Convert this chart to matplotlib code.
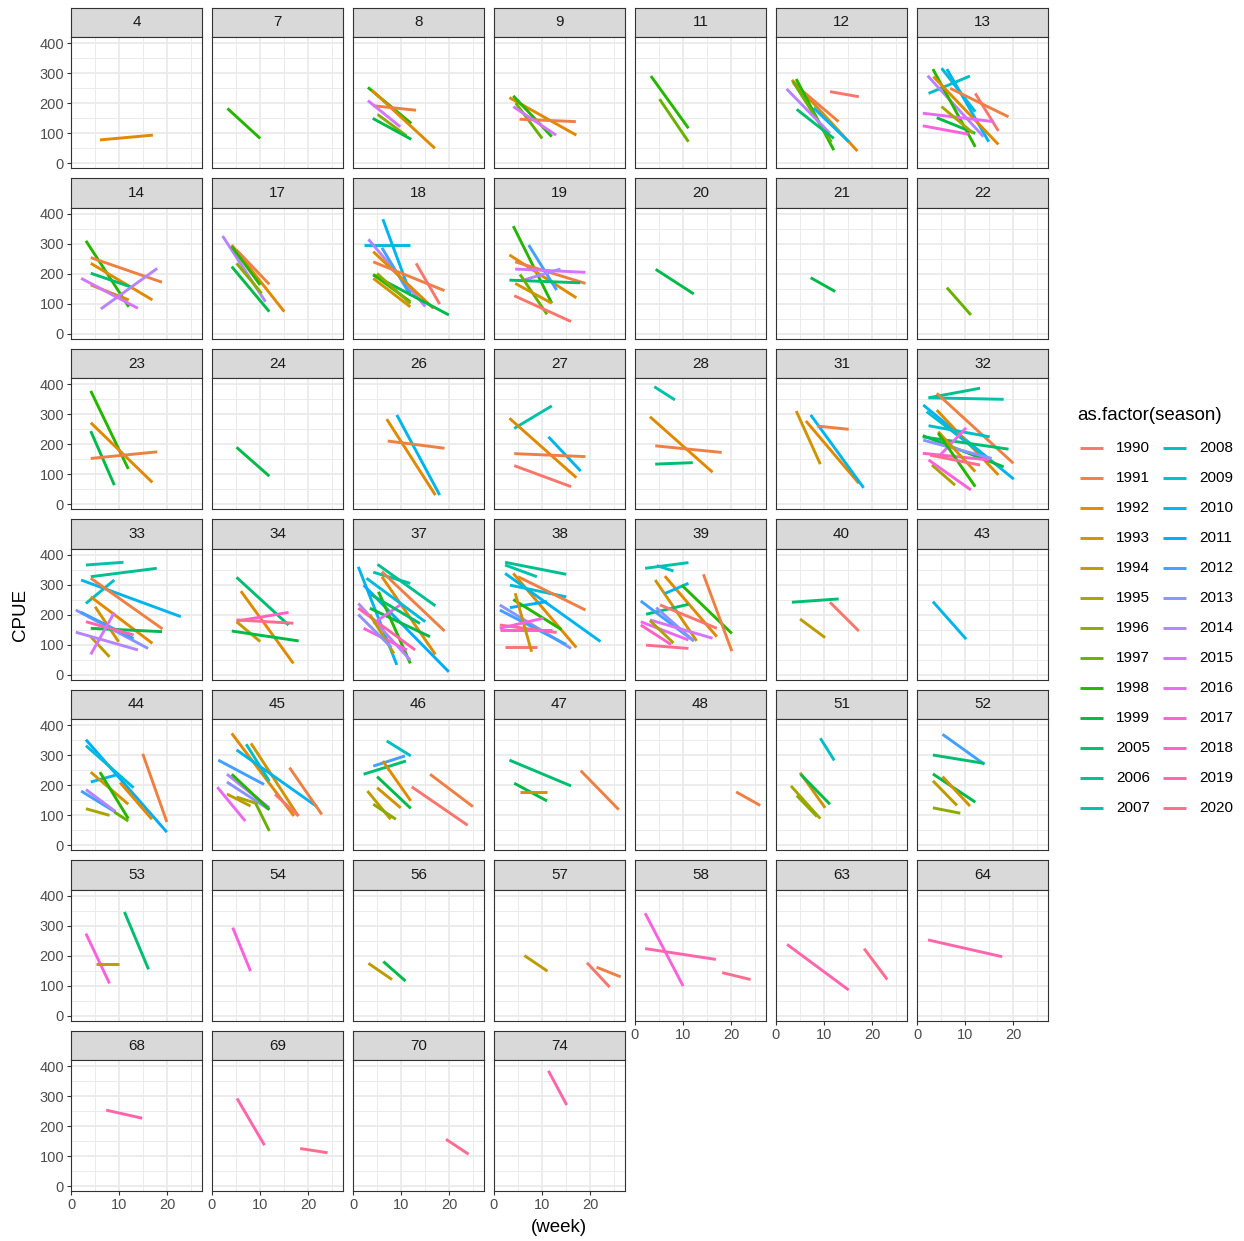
import numpy as np
import matplotlib
matplotlib.use("Agg")
import matplotlib.pyplot as plt
from matplotlib.lines import Line2D

plt.rcParams['font.family'] = ['Liberation Sans', 'DejaVu Sans']

# seasons shown in the legend (factor levels)
seasons = list(range(1990, 2000)) + list(range(2005, 2021))

# facet order (areas)
areas = [4, 7, 8, 9, 11, 12, 13,
         14, 17, 18, 19, 20, 21, 22,
         23, 24, 26, 27, 28, 31, 32,
         33, 34, 37, 38, 39, 40, 43,
         44, 45, 46, 47, 48, 51, 52,
         53, 54, 56, 57, 58, 63, 64,
         68, 69, 70, 74]

# one sublist per area: season of each segment
seg_season = [
    [1992],
    [1998],
    [1998, 1992, 1991, 2015, 1996, 1999],
    [1992, 1998, 1997, 1991, 2015],
    [1998, 1997],
    [1990, 1992, 1991, 1998, 1997, 2014, 2005, 2010],
    [2008, 2009, 2010, 2014, 1998, 1992, 1990, 1991, 2016, 2017, 1999, 1995],
    [1998, 1991, 1992, 2005, 1993, 2014, 2015],
    [2014, 1992, 1991, 1998, 1999, 1996],
    [2009, 2010, 2014, 2012, 1992, 1991, 1990, 1999, 1998, 1996, 1993],
    [1998, 1992, 1991, 2012, 2015, 2014, 2005, 1997, 1993, 1990],
    [1999],
    [1999],
    [1997],
    [1998, 1992, 1999, 1991],
    [1999],
    [1992, 2010, 1991],
    [2007, 1992, 2010, 1991, 1990],
    [2007, 1992, 1991, 2005],
    [1993, 1992, 2010, 1991],
    [2006, 2007, 1991, 2010, 1992, 2009, 2008, 2005, 1999, 2018, 2016, 2013, 1993, 1995, 1998, 2017, 2020],
    [2007, 2006, 2010, 2008, 1991, 1992, 1994, 1993, 2013, 2012, 1999, 2019, 2015, 2014],
    [2005, 1992, 2018, 2020, 1994, 1999],
    [2007, 2006, 1991, 1992, 2010, 2011, 2009, 1999, 1998, 2014, 2019, 2016, 2017, 1994, 2005, 2013],
    [2006, 2007, 1992, 2010, 2009, 1991, 2011, 1998, 2013, 2012, 2020, 2018, 1990, 1993, 2017],
    [2007, 2008, 1992, 1993, 2010, 1998, 1991, 2005, 1990, 2012, 2013, 2015, 2016, 2018, 2020, 1995],
    [2005, 1990, 1994],
    [2010],
    [2011, 2009, 2010, 1993, 1992, 1991, 1998, 2012, 2014, 1995, 1997],
    [1992, 1993, 2008, 2010, 2012, 1991, 1990, 2014, 2013, 2016, 1997, 1995, 1998, 1994],
    [2008, 2012, 2005, 1992, 1999, 1993, 1994, 1996, 1990, 1991],
    [2005, 1999, 1993, 1991],
    [1991],
    [2008, 1993, 1999, 1995, 1996],
    [2012, 2005, 1999, 1993, 1994, 1996],
    [2017, 1994, 2005],
    [2017],
    [1994, 1999],
    [1994, 1990, 1991],
    [2017, 2019, 2020],
    [2019, 2020],
    [2019],
    [2019],
    [2019, 2020],
    [2020],
    [2019],
]

week_start = [
    [6],
    [3.2],
    [3.1, 3.9, 4.2, 3.1, 5.1, 4.1],
    [3.2, 4, 4.5, 5.3, 4],
    [3.3, 5.1],
    [11.2, 3.3, 3.6, 4.2, 3.5, 2.2, 4.3, 7.8],
    [2.4, 5.1, 6.2, 2.2, 3.3, 3.4, 12.1, 6.9, 1.2, 1.2, 4.1, 5.1],
    [3.1, 4.1, 4.1, 4.1, 4.1, 6.2, 2.1],
    [2.2, 4.1, 5, 4.1, 4.1, 5.1],
    [2.2, 6.2, 3.2, 6, 4.2, 4.2, 13.1, 4.2, 4.2, 5, 4.2],
    [4, 3.2, 4.4, 7.2, 4.4, 6.1, 3.2, 5.4, 4.4, 4.2],
    [4.3],
    [7.2],
    [6.2],
    [4.1, 4.1, 4.1, 4.1],
    [5.1],
    [7, 9.1, 7.2],
    [4.2, 3.2, 11.3, 4.2, 4.2],
    [4, 3.1, 4.2, 4.2],
    [4.2, 6.2, 7.2, 8.5],
    [2.4, 2.4, 4.1, 1.3, 4.1, 2, 2.4, 1.2, 1.2, 1.2, 4.8, 1.3, 4.4, 3.1, 4.4, 2.4, 2.7],
    [3.1, 4.1, 2.1, 3.1, 4.1, 4.1, 4.1, 5, 1, 2, 4.1, 3.1, 4.1, 1],
    [5.1, 6, 5.1, 5.1, 5.1, 4.1],
    [4.2, 5.1, 6, 6, 1.1, 2.2, 2.8, 3.5, 5.3, 1.1, 1.1, 4.2, 2.2, 3.5, 3.8, 1.1],
    [2.3, 2.3, 4, 2.3, 3.3, 5, 3.3, 4, 1.2, 1.2, 1.2, 1.2, 2.3, 4.4, 1.2],
    [2.1, 4.5, 6.2, 4.2, 6.2, 9.7, 14.2, 2.3, 5.2, 1.2, 4.4, 3.1, 1.2, 1.2, 2.3, 3.1],
    [3.3, 11.2, 5],
    [3.3],
    [3.1, 3.1, 4.1, 4.1, 10.2, 14.9, 6, 2.1, 3.1, 3.1, 9],
    [4.1, 8.1, 7.1, 5.1, 1.3, 16.1, 13.1, 3.1, 3.1, 1.1, 9, 5.1, 4.1, 3.1],
    [7, 4.2, 2.2, 6.2, 5, 5, 3, 4.2, 12.2, 16],
    [3.2, 4.2, 5.3, 18],
    [21],
    [9.2, 5, 5.1, 3.1, 4.3],
    [5.3, 3.3, 3.3, 5.3, 3.3, 3.3],
    [3.1, 5.1, 11.1],
    [4.3],
    [3.2, 6.3],
    [6.3, 19.3, 21.3],
    [2.1, 2.1, 18.1],
    [2.3, 18.3],
    [2.3],
    [7.3],
    [5.2, 18.3],
    [19.3],
    [11.3],
]

cpue_start = [
    [77],
    [182],
    [252, 243, 191, 208, 162, 149],
    [218, 224, 200, 146, 188],
    [290, 213],
    [238, 277, 266, 280, 272, 247, 179, 184],
    [232, 316, 313, 291, 313, 288, 232, 249, 166, 124, 151, 188],
    [309, 253, 234, 201, 162, 82, 184],
    [325, 295, 280, 290, 223, 234],
    [295, 381, 314, 286, 273, 239, 234, 195, 197, 200, 184],
    [358, 262, 239, 295, 215, 178, 178, 197, 167, 126],
    [214],
    [186],
    [153],
    [377, 271, 243, 152],
    [189],
    [283, 297, 210],
    [252, 286, 224, 168, 128],
    [391, 291, 194, 133],
    [310, 277, 297, 260],
    [354, 354, 369, 330, 313, 308, 261, 224, 228, 169, 163, 213, 241, 130, 236, 147, 163],
    [365, 326, 315, 237, 321, 259, 126, 226, 215, 208, 154, 176, 67, 141],
    [324, 278, 178, 182, 176, 145],
    [341, 367, 343, 326, 359, 298, 321, 221, 276, 237, 221, 170, 154, 200, 266, 200],
    [374, 365, 337, 337, 298, 326, 223, 250, 232, 215, 165, 150, 93, 271, 154],
    [354, 363, 328, 315, 270, 298, 334, 201, 232, 245, 223, 182, 176, 165, 98, 180],
    [241, 241, 185],
    [243],
    [351, 331, 210, 243, 208, 304, 243, 180, 185, 121, 110],
    [372, 339, 336, 317, 283, 258, 169, 236, 210, 193, 141, 160, 236, 170],
    [347, 263, 236, 280, 228, 191, 180, 136, 194, 236],
    [283, 206, 178, 248],
    [177],
    [356, 241, 236, 197, 165],
    [369, 300, 237, 228, 214, 124],
    [273, 173, 345],
    [293],
    [174, 180],
    [200, 176, 161],
    [341, 223, 143],
    [237, 223],
    [252],
    [253],
    [292, 125],
    [156],
    [384],
]

week_end = [
    [17],
    [10],
    [12.1, 17, 13.1, 9.8, 11.1, 12.1],
    [17.1, 12, 10, 17, 12.9],
    [11.1, 11.1],
    [17.2, 16.9, 13, 12, 11.5, 11.2, 12, 15.1],
    [11, 12.1, 14.9, 13.8, 12.1, 16.9, 16.9, 19, 15.9, 10.7, 12.1, 11.7],
    [12, 18.9, 16.9, 12.3, 12, 17.9, 13.9],
    [11.1, 15, 11.9, 10, 11.9, 10.3],
    [11.9, 11.9, 15, 11.9, 16.7, 19, 18, 19.9, 11.9, 11.9, 11.9],
    [12, 17.1, 19, 13, 19, 13.8, 17.9, 11, 12, 16],
    [12.2],
    [12.3],
    [11.2],
    [11.9, 16.9, 9, 17.9],
    [11.9],
    [17.1, 18, 19],
    [12, 17.1, 18, 19, 16],
    [8.3, 16.1, 18, 12],
    [9.2, 17.2, 18.2, 15.1],
    [13.1, 18, 20, 20.1, 16.9, 13.8, 15.1, 19, 18, 15, 10.2, 15.5, 12.1, 7.9, 12.1, 11.2, 13.1],
    [10.9, 17.8, 22.8, 9, 19, 16.9, 8, 9.9, 16, 13, 18.9, 13, 9, 13.9],
    [15.9, 16.9, 15.9, 16.9, 10, 18],
    [11.9, 17.1, 19, 17.1, 9.1, 19.9, 15, 16, 11.9, 11.9, 12.9, 9.8, 11.2, 8.5, 13.9, 8],
    [15, 8.9, 17.1, 22.1, 15, 19, 11, 14, 16, 15, 13, 12, 8.9, 7.8, 10.3],
    [11.1, 8, 17, 12.8, 11.1, 20.1, 20.1, 11.1, 17, 12.2, 12.2, 16.1, 11.1, 7.5, 11.1, 8],
    [13, 17.2, 10.2],
    [10.2],
    [19.9, 13, 9.9, 11.9, 16.8, 19.9, 11.9, 9.2, 9.2, 8, 11.9],
    [17, 17.9, 11.9, 21.8, 10.8, 22.8, 18, 11.9, 11.9, 6.9, 11.9, 9, 11.9, 8],
    [12, 10.8, 11, 12, 12, 9.9, 7.8, 8.9, 23.8, 24.9],
    [16, 11, 11, 25.9],
    [26],
    [12.1, 10.2, 11.2, 9.2, 8.5],
    [14, 14, 12.1, 11, 8.3, 9],
    [8, 10, 16.1],
    [8],
    [8.1, 10.9],
    [11.1, 24, 26.3],
    [10, 16.8, 24],
    [15.1, 23.1],
    [17.7],
    [14.8],
    [10.9, 24],
    [24],
    [15.1],
]

cpue_end = [
    [93],
    [82],
    [132, 49, 176, 121, 91, 79],
    [93, 88, 82, 138, 93],
    [116, 71],
    [221, 40, 138, 43, 70, 99, 82, 71],
    [290, 171, 71, 88, 54, 62, 107, 154, 138, 96, 99, 99],
    [89, 171, 112, 156, 112, 217, 84],
    [106, 73, 164, 162, 73, 134],
    [295, 134, 90, 128, 84, 143, 98, 62, 106, 100, 89],
    [101, 119, 167, 145, 204, 215, 169, 64, 101, 40],
    [132],
    [140],
    [62],
    [117, 72, 63, 174],
    [93],
    [30, 30, 186],
    [327, 88, 110, 158, 58],
    [347, 106, 172, 138],
    [133, 69, 54, 249],
    [386, 349, 136, 83, 97, 163, 224, 183, 124, 147, 254, 152, 108, 63, 58, 47, 130],
    [374, 354, 193, 315, 152, 104, 59, 109, 87, 120, 143, 132, 207, 82],
    [165, 37, 207, 171, 110, 112],
    [304, 229, 145, 67, 32, 9, 176, 126, 37, 48, 82, 232, 82, 70, 170, 90],
    [334, 326, 90, 110, 259, 215, 243, 150, 87, 100, 140, 150, 93, 76, 188],
    [373, 345, 126, 112, 304, 137, 78, 234, 154, 112, 112, 121, 115, 100, 87, 105],
    [252, 145, 123],
    [118],
    [43, 191, 236, 136, 86, 77, 88, 110, 112, 99, 80],
    [97, 97, 213, 128, 202, 102, 97, 124, 118, 80, 47, 140, 118, 130],
    [297, 297, 280, 147, 122, 124, 86, 86, 66, 128],
    [197, 147, 178, 118],
    [132],
    [282, 124, 136, 88, 95],
    [269, 272, 143, 130, 132, 106],
    [107, 173, 154],
    [148],
    [120, 115],
    [148, 95, 129],
    [98, 187, 120],
    [85, 120],
    [196],
    [226],
    [136, 111],
    [106],
    [270],
]


def hcl_color(h, c=100.0, l=65.0):
    # polar Luv -> sRGB, same as R's hcl()
    hr = np.deg2rad(h)
    u, v = c * np.cos(hr), c * np.sin(hr)
    xn, yn, zn = 95.047, 100.0, 108.883
    y = yn * ((l + 16) / 116) ** 3
    den = xn + 15 * yn + 3 * zn
    up = u / (13 * l) + 4 * xn / den
    vp = v / (13 * l) + 9 * yn / den
    x = 9 * y * up / (4 * vp)
    z = y * (12 - 3 * up - 20 * vp) / (4 * vp)
    m = np.array([[3.240479, -1.537150, -0.498535],
                  [-0.969256, 1.875992, 0.041556],
                  [0.055648, -0.204043, 1.057311]])
    rgb = m @ np.array([x, y, z]) / 100
    rgb = np.where(rgb > 0.0031308, 1.055 * np.abs(rgb) ** (1 / 2.4) - 0.055, 12.92 * rgb)
    return tuple(np.clip(rgb, 0, 1))


n = len(seasons)
hues = np.linspace(15, 375, n + 1)[:n]
pal = {s: hcl_color(h) for s, h in zip(seasons, hues)}

W, H = 1244, 1241
fig = plt.figure(figsize=(W / 100, H / 100), dpi=100)


def px_axes(x, y, w, h):
    return fig.add_axes([x / W, 1 - (y + h) / H, w / W, h / H])


border = '#333333'
LW = 2.1

for i, area in enumerate(areas):
    r, c = divmod(i, 7)
    left = 71 + 141 * c
    top = 7.7 + 170.5 * r

    # strip
    st = px_axes(left, top, 131, 29.6)
    st.set_facecolor('#D9D9D9')
    st.set_xticks([])
    st.set_yticks([])
    for sp in st.spines.values():
        sp.set_color(border)
        sp.set_linewidth(0.8)
    st.text(0.5, 0.5, str(area), ha='center', va='center', fontsize=11,
            color='#1A1A1A', transform=st.transAxes)

    ax = px_axes(left, top + 29.6, 131, 131)
    ax.set_xlim(0, 27.2)
    ax.set_ylim(-17.5, 419)
    ax.set_xticks([0, 10, 20])
    ax.set_xticks([5, 15, 25], minor=True)
    ax.set_yticks([0, 100, 200, 300, 400])
    ax.set_yticks([50, 150, 250, 350], minor=True)
    ax.grid(True, which='major', color='#EBEBEB', lw=1.3)
    ax.grid(True, which='minor', color='#EBEBEB', lw=0.7)
    ax.set_axisbelow(True)
    for sp in ax.spines.values():
        sp.set_color(border)
        sp.set_linewidth(0.8)

    for s, w0, c0, w1, c1 in zip(seg_season[i], week_start[i], cpue_start[i],
                                 week_end[i], cpue_end[i]):
        ax.plot([w0, w1], [c0, c1], color=pal[s], lw=LW, solid_capstyle='butt')

    bottom = i + 7 >= len(areas)
    ax.tick_params(which='minor', length=0)
    ax.tick_params(which='major', length=3, width=0.8, color=border,
                   labelcolor='#4D4D4D', labelsize=10.5, pad=2)
    ax.tick_params(axis='x', bottom=bottom, labelbottom=bottom)
    ax.tick_params(axis='y', left=(c == 0), labelleft=(c == 0))

# axis titles
fig.text(21 / W, 1 - 615 / H, 'CPUE', rotation=90, ha='center', va='center',
         fontsize=13.5, color='black')
fig.text(559 / W, 1 - 1227 / H, '(week)', ha='center', va='center',
         fontsize=13.5, color='black')

# legend
fig.text(1077 / W, 1 - 416 / H, 'as.factor(season)', ha='left', va='center',
         fontsize=13.5, color='black')
for k, s in enumerate(seasons):
    col, row = divmod(k, 13)
    yy = 1 - (448 + 30 * row) / H
    x0 = 1080 + 83 * col
    fig.add_artist(Line2D([x0 / W, (x0 + 23) / W], [yy, yy], color=pal[s],
                          lw=LW, solid_capstyle='butt'))
    fig.text((x0 + 36) / W, yy, str(s), ha='left', va='center',
             fontsize=11, color='black')

fig.savefig('out.png', dpi=100)
